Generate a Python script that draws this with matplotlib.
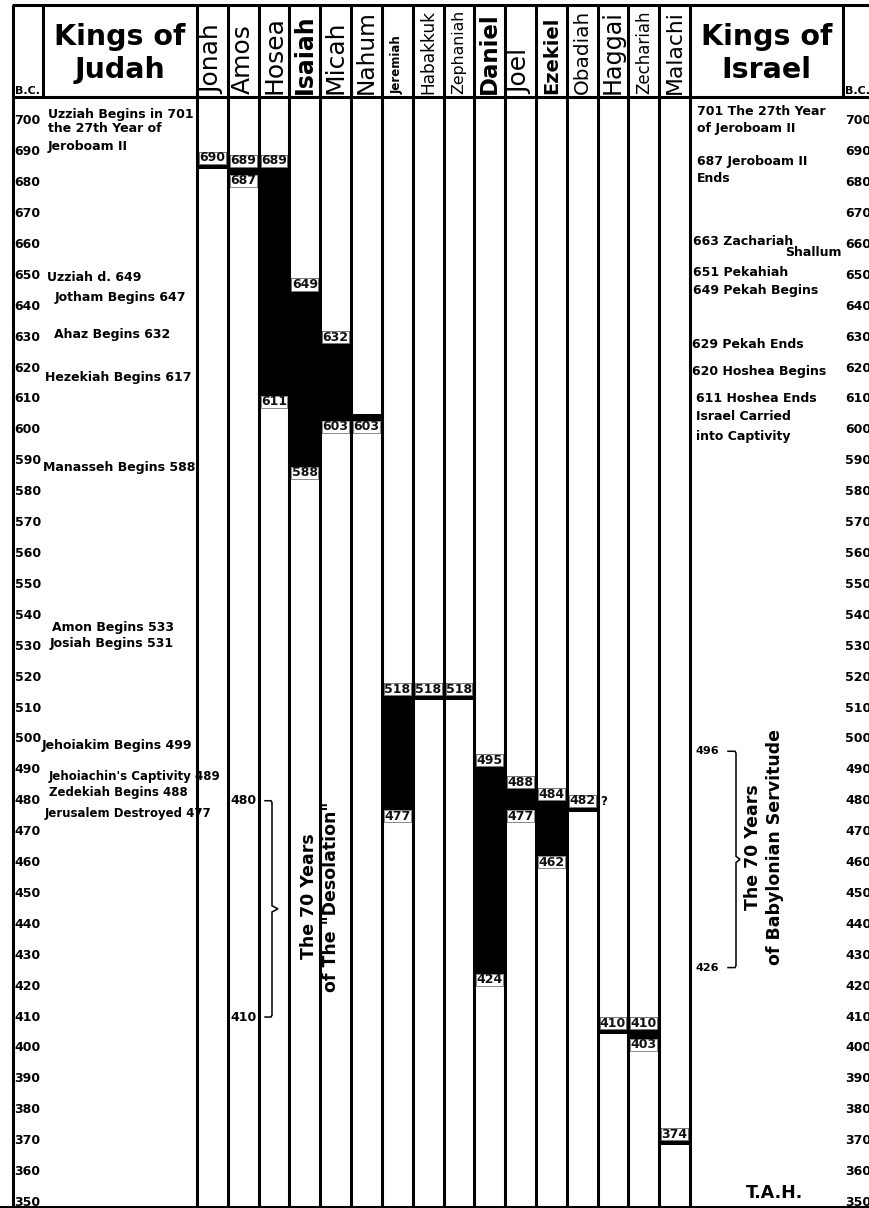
#!/usr/bin/env python3
"""Prophets of Judah and Israel timeline, B.C. 700-350, redrawn as one chart."""
import matplotlib
matplotlib.use("Agg")
import matplotlib.pyplot as plt
from matplotlib.patches import Rectangle
import numpy as np

plt.rcParams["font.family"] = ["DejaVu Sans"]

# ---------------- data ----------------
prophets = ["Jonah", "Amos", "Hosea", "Isaiah", "Micah", "Nahum", "Jeremiah",
            "Habakkuk", "Zephaniah", "Daniel", "Joel", "Ezekiel", "Obadiah",
            "Haggai", "Zechariah", "Malachi"]
start_bc = [690, 689, 689, 649, 632, None, 518, 518, 518, 495, 488, 484, 482, 410, 410, 374]
end_bc = [None, 687, 611, 588, 603, 603, 477, None, None, 424, 477, 462, None, None, 403, None]
uncertain = ["Obadiah"]

years = list(range(700, 349, -10))

judah_text = ["Uzziah Begins in 701", "the 27th Year of", "Jeroboam II",
              "Uzziah d. 649", "Jotham Begins 647", "Ahaz Begins 632",
              "Hezekiah Begins 617", "Manasseh Begins 588", "Amon Begins 533",
              "Josiah Begins 531", "Jehoiakim Begins 499",
              "Jehoiachin's Captivity 489", "Zedekiah Begins 488",
              "Jerusalem Destroyed 477"]
israel_text = ["701 The 27th Year", "of Jeroboam II", "687 Jeroboam II", "Ends",
               "663 Zachariah", "Shallum", "651 Pekahiah", "649 Pekah Begins",
               "629 Pekah Ends", "620 Hoshea Begins", "611 Hoshea Ends",
               "Israel Carried", "into Captivity"]

desolation = (480, 410)
servitude = (496, 426)

# ---------------- layout / style ----------------
W, H = 869, 1208
HEAD = 98
Y_TOP, Y_BOT = 707.4, 348.2
LW = 2.2
BOX = 3.9
TICK = 1.6
MIN_BLACK = 2.5

name_bold = [n in ("Isaiah", "Jeremiah", "Daniel", "Ezekiel") for n in prophets]
name_pt = [18, 18, 18, 17, 18, 18, 8.5, 18, 18, 16.5, 18, 14, 18, 18, 18, 18]
NAME_LEN = 84

# row (in years) and left indent (px) of each text line
judah_at = [702, 697.4, 691.6, 649.2, 643, 631, 616.8, 587.7, 536, 531, 498, 487.7, 482.8, 475.7]
judah_x = [48, 48, 48, 47, 55, 54, 45, 43, 52, 50, 42, 49, 49, 45]
judah_pt = [9] * 11 + [8.5, 8.5, 8.5]
israel_at = [703, 697.5, 686.7, 681.5, 661, 657.3, 650.8, 645, 627.5, 618.8, 610, 604.2, 598]
israel_x = [697, 697, 697, 697, 693, None, 693, 693, 692, 692, 696, 696, 696]

col_w = [30, 154] + [30.8125] * 16 + [153, 31]
edges = 13 + np.concatenate([[0], np.cumsum(col_w)])
body_edges = np.delete(edges, [1, 19])   # the B.C. columns are open in the body

fig = plt.figure(figsize=(W / 100, H / 100), dpi=100)
fig.patch.set_facecolor("white")
hx = fig.add_axes([0, 1 - HEAD / H, 1, HEAD / H])
ax = fig.add_axes([0, 0, 1, 1 - HEAD / H])
for a in (hx, ax):
    a.set_axis_off()
hx.set_xlim(0, W); hx.set_ylim(HEAD, 0)
ax.set_xlim(0, W); ax.set_ylim(Y_BOT, Y_TOP)

# grid
hx.vlines(edges, 5, HEAD, colors="k", lw=LW, clip_on=False, zorder=4)
hx.hlines([5, HEAD - 0.5], 11.9, W + 10, colors="k", lw=LW, clip_on=False, zorder=4)
ax.vlines(body_edges, Y_BOT, Y_TOP, colors="k", lw=LW, zorder=4)
ax.axhline(Y_BOT + 0.4, color="k", lw=LW, zorder=4)

# header
jc = (edges[1] + edges[2]) / 2
ic = (edges[18] + edges[19]) / 2
for cx, word in ((jc, "Judah"), (ic, "Israel")):
    hx.text(cx, 45, "Kings of", ha="center", va="baseline", fontsize=20.5, fontweight="bold")
    hx.text(cx, 78, word, ha="center", va="baseline", fontsize=20.5, fontweight="bold")
hx.text(14.5, 94, "B.C.", ha="left", va="baseline", fontsize=8, fontweight="bold")
hx.text(845, 94, "B.C.", ha="left", va="baseline", fontsize=8, fontweight="bold")

name_texts = []
for i, (n, b, pt) in enumerate(zip(prophets, name_bold, name_pt)):
    cx = (edges[2 + i] + edges[3 + i]) / 2
    name_texts.append(hx.text(cx, 94.5, n, rotation=90, rotation_mode="anchor",
                              ha="left", va="center", fontsize=pt,
                              fontweight="bold" if b else "normal"))

# year scale, both sides
for y in years:
    ax.text(14.5, y, str(y), ha="left", va="center", fontsize=9, fontweight="bold", zorder=3)
    ax.text(845, y, str(y), ha="left", va="center", fontsize=9, fontweight="bold", zorder=3)


def year_label(xl, xr, top, txt):
    ax.add_patch(Rectangle((xl + 2, top - BOX), xr - xl - 4, BOX, fc="white",
                           ec="#777777", lw=0.6, zorder=2))
    ax.text((xl + xr) / 2, top - BOX / 2, txt, ha="center", va="center",
            fontsize=9, fontweight="bold", color="#111111", zorder=3)


for i, (n, s, e) in enumerate(zip(prophets, start_bc, end_bc)):
    xl, xr = edges[2 + i], edges[3 + i]
    if s is not None and e is not None:
        e_draw = min(e, s - BOX - MIN_BLACK)
        ax.add_patch(Rectangle((xl, e_draw), xr - xl, s - e_draw, fc="k", ec="none", zorder=1))
    elif s is not None:
        ax.add_patch(Rectangle((xl, s - BOX - TICK), xr - xl, BOX + TICK, fc="k", ec="none", zorder=1))
    else:
        e_draw = e
        ax.add_patch(Rectangle((xl, e), xr - xl, TICK + 0.6, fc="k", ec="none", zorder=1))
    if s is not None:
        year_label(xl, xr, s, str(s))
        if n in uncertain:
            ax.text(xr + 3, s - BOX / 2 - 0.4, "?", ha="left", va="center",
                    fontsize=8.5, fontweight="bold", zorder=3)
    if e is not None:
        year_label(xl, xr, e_draw, str(e))

# kings of Judah
for t, y, x, pt in zip(judah_text, judah_at, judah_x, judah_pt):
    ax.text(x, y, t, ha="left", va="center", fontsize=pt, fontweight="bold", zorder=5)

# kings of Israel
for t, y, x in zip(israel_text, israel_at, israel_x):
    if x is None:
        ax.text(edges[19] - 1, y, t, ha="right", va="center", fontsize=9, fontweight="bold", zorder=5)
    else:
        ax.text(x, y, t, ha="left", va="center", fontsize=9, fontweight="bold", zorder=5)


def brace(x0, x1, x2, top, bot):
    mid = (top + bot) / 2
    ax.plot([x0, x1 - 1, x1, x1, x2, x1, x1, x1 - 1, x0],
            [top, top, top - 0.6, mid + 1.0, mid, mid - 1.0, bot + 0.6, bot, bot],
            color="k", lw=1.1, zorder=3, solid_joinstyle="miter")


# 70 years of desolation
brace(265, 272, 278, *desolation)
for y in desolation:
    ax.text(230, y, str(y), ha="left", va="center", fontsize=9, fontweight="bold", zorder=3)
ax.text(edges[6], sum(desolation) / 2 + 4, 'The 70 Years\nof The "Desolation"', rotation=90,
        ha="center", va="center", multialignment="center", fontsize=12.5,
        fontweight="bold", linespacing=1.25, zorder=3)

# 70 years of Babylonian servitude
brace(728, 736, 740, *servitude)
for y in servitude:
    ax.text(696, y, str(y), ha="left", va="center", fontsize=8, fontweight="bold", zorder=3)
ax.text(764, sum(servitude) / 2 + 4, "The 70 Years\nof Babylonian Servitude", rotation=90,
        ha="center", va="center", multialignment="center", fontsize=12.5,
        fontweight="bold", linespacing=1.25, zorder=3)

ax.text(774, 353, "T.A.H.", ha="center", va="center", fontsize=12.5, fontweight="bold", zorder=3)

# shrink long prophet names so they fit in the header cell
fig.canvas.draw()
r = fig.canvas.get_renderer()
for t in name_texts:
    h = t.get_window_extent(r).height
    if h > NAME_LEN:
        t.set_fontsize(t.get_fontsize() * NAME_LEN / h)

fig.savefig("out.png", dpi=100, facecolor="white")
